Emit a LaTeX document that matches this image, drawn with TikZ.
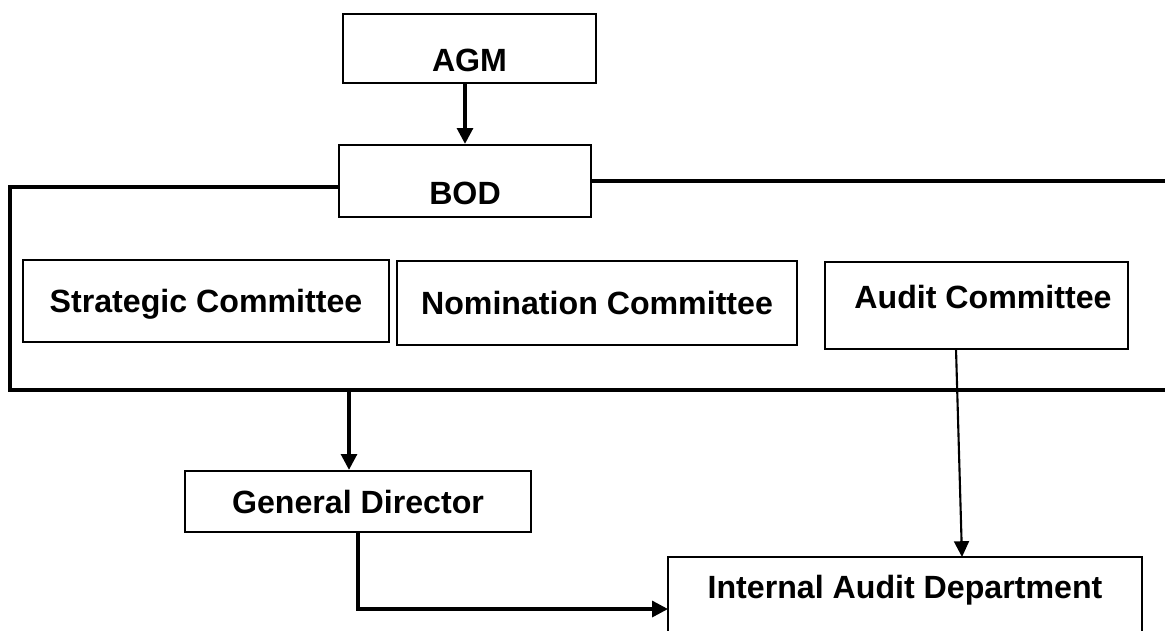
\documentclass[tikz,border=0pt]{standalone}
\usepackage{fontspec}
\setmainfont{Liberation Sans}
\usepackage{tikz}
\usetikzlibrary{arrows.meta, positioning}
\tikzset{
  orgbox/.style={rectangle, draw=black, line width=1.3pt, inner sep=0pt,
    font=\fontsize{18.3}{22}\selectfont\bfseries,
    text height=0.46cm, text depth=0pt},
  frameline/.style={line width=2.3pt, color=black},
  arrow/.style={-{Triangle[length=9pt,width=9pt]}, line width=1.9pt, color=black},
  thinarrow/.style={-{Triangle[length=9pt,width=8.5pt]}, line width=1.2pt, color=black}
}

\begin{document}
\begin{tikzpicture}[x=0.02cm, y=-0.02cm]
  \useasboundingbox (0,0) rectangle (1165,630);

  % Nodes
  \node[orgbox, minimum width=5.06cm, minimum height=1.38cm, text height=0.92cm] (AGM) at (469.5,48.5) {AGM};
  \node[orgbox, minimum width=5.04cm, minimum height=1.44cm, text height=0.94cm] (BOD) at (465,181) {BOD};
  \node[orgbox, minimum width=7.32cm, minimum height=1.64cm] (SC) at (206,301) {Strategic Committee};
  \node[orgbox, minimum width=8.00cm, minimum height=1.68cm] (NC) at (597,303) {Nomination Committee};
  \node[orgbox, minimum width=6.06cm, minimum height=1.74cm, text depth=0.34cm] (AC) at (976.5,305.5) {\hspace{0.26cm}Audit Committee};
  \node[orgbox, minimum width=6.92cm, minimum height=1.22cm] (GD) at (358,501.5) {General Director};
  \node[orgbox, minimum width=9.48cm, minimum height=2.00cm, text depth=0.80cm] (IAD) at (905,607) {Internal Audit Department};

  % Board frame
  \coordinate (fleft) at (10,187);
  \coordinate (fbot) at (10,390);
  \coordinate (fright) at (1165,181);
  \coordinate (fbotr) at (1165,390);
  \draw[frameline] (BOD.west |- fleft) -- (fleft) -- (fbot) -- (fbotr);
  \draw[frameline] (BOD.east |- fright) -- (fright);

  % Connections
  \coordinate (gdin) at (349,390);
  \coordinate (acout) at (956,349);
  \coordinate (iadtop) at (962,557);
  \coordinate (iadin) at (668,609);
  \draw[arrow] (AGM.south -| BOD) -- (BOD.north);
  \draw[arrow] (gdin) -- (gdin |- GD.north);
  \draw[arrow] (GD.south) |- (iadin);
  \draw[thinarrow] (acout) -- (iadtop);
\end{tikzpicture}
\end{document}
